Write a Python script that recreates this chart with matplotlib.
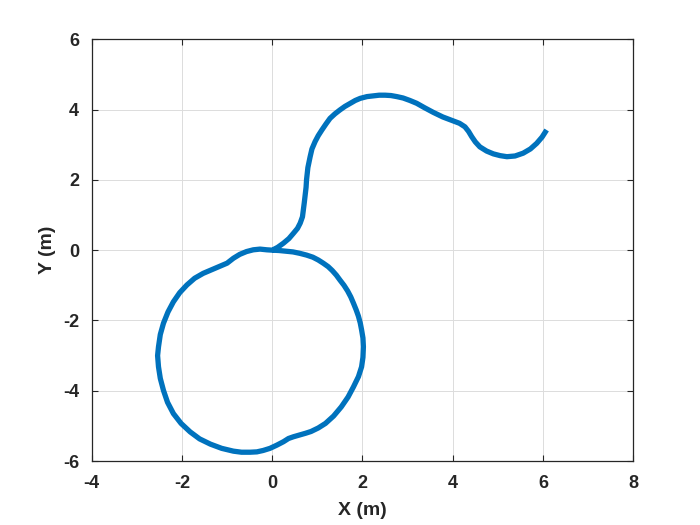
import matplotlib
matplotlib.use("Agg")
import matplotlib.pyplot as plt

# Trajectory (m)
x_m = [0.00, 0.15, 0.30, 0.46, 0.61, 0.76, 0.90, 1.02, 1.13, 1.24, 1.33, 1.42,
       1.50, 1.59, 1.67, 1.74, 1.80, 1.86, 1.91, 1.95, 1.98, 2.01, 2.02, 2.01,
       1.98, 1.91, 1.80, 1.68, 1.53, 1.36, 1.18, 1.02, 0.86, 0.74, 0.63, 0.55,
       0.47, 0.36, 0.25, 0.10, -0.05, -0.20, -0.34, -0.49, -0.68, -0.86, -1.12,
       -1.37, -1.61, -1.82, -2.02, -2.19, -2.32, -2.41, -2.48, -2.52, -2.54,
       -2.52, -2.48, -2.41, -2.31, -2.19, -2.05, -1.89, -1.72, -1.53, -1.33,
       -1.15, -1.00, -0.86, -0.72, -0.57, -0.42, -0.27, -0.12, 0.00,
       0.12, 0.25, 0.37, 0.47, 0.56, 0.62, 0.67, 0.69, 0.71, 0.73, 0.75, 0.76,
       0.79, 0.84, 0.88, 0.95, 1.02, 1.10, 1.19, 1.28, 1.39, 1.50, 1.61, 1.73,
       1.84, 1.95, 2.10, 2.24, 2.37, 2.50, 2.63, 2.76, 2.90, 3.05, 3.20, 3.38,
       3.57, 3.78, 4.01, 4.15, 4.27, 4.35, 4.42, 4.50, 4.60, 4.75, 4.90, 5.05,
       5.20, 5.38, 5.56, 5.72, 5.86, 5.98, 6.08]
y_m = [0.00, -0.01, -0.03, -0.05, -0.09, -0.14, -0.20, -0.28, -0.37, -0.47, -0.58, -0.71,
       -0.85, -1.00, -1.16, -1.33, -1.51, -1.70, -1.88, -2.07, -2.27, -2.50, -2.75, -3.05,
       -3.32, -3.60, -3.89, -4.18, -4.46, -4.72, -4.93, -5.06, -5.16, -5.21, -5.25, -5.28,
       -5.31, -5.36, -5.45, -5.55, -5.64, -5.70, -5.74, -5.75, -5.75, -5.72, -5.64,
       -5.52, -5.37, -5.17, -4.93, -4.65, -4.33, -3.99, -3.65, -3.32, -3.00,
       -2.75, -2.40, -2.08, -1.76, -1.47, -1.21, -0.99, -0.80, -0.66, -0.55,
       -0.45, -0.37, -0.23, -0.12, -0.04, 0.01, 0.03, 0.01, 0.00,
       0.08, 0.20, 0.33, 0.48, 0.62, 0.77, 0.95, 1.14, 1.35, 1.57, 1.79, 2.00,
       2.35, 2.66, 2.88, 3.09, 3.26, 3.42, 3.59, 3.75, 3.88, 3.99, 4.09, 4.18,
       4.26, 4.32, 4.37, 4.39, 4.41, 4.41, 4.40, 4.37, 4.33, 4.26, 4.18, 4.05,
       3.92, 3.79, 3.68, 3.61, 3.51, 3.38, 3.23, 3.08, 2.94, 2.82, 2.74, 2.69,
       2.66, 2.68, 2.76, 2.88, 3.04, 3.22, 3.42]

x_ticks = [-4, -2, 0, 2, 4, 6, 8]
y_ticks = [-6, -4, -2, 0, 2, 4, 6]
x_label = "X (m)"
y_label = "Y (m)"

plt.rcParams['font.family'] = ['Liberation Sans', 'DejaVu Sans']

fig = plt.figure(figsize=(7, 5.25), dpi=100)
ax = fig.add_axes([0.131, 0.1219, 0.7737, 0.8032])

ax.plot(x_m, y_m, color='#0072BD', linewidth=3.8, solid_joinstyle='round',
        solid_capstyle='butt', zorder=3)

ax.set_xlim(-4, 8)
ax.set_ylim(-6, 6)
ax.set_xticks(x_ticks)
ax.set_yticks(y_ticks)
ax.set_xticklabels([str(v) for v in x_ticks], fontweight='bold', fontsize=13)
ax.set_yticklabels([str(v) for v in y_ticks], fontweight='bold', fontsize=13)

ax.grid(True, color='#dcdcdc', linewidth=0.7)
ax.set_axisbelow(True)

ax.tick_params(direction='in', length=4, width=0.8, colors='#262626',
               top=True, right=True)
ax.tick_params(axis='x', pad=10)
ax.tick_params(axis='y', pad=9)
for s in ax.spines.values():
    s.set_color('#262626')
    s.set_linewidth(0.9)

ax.set_xlabel(x_label, fontweight='bold', fontsize=14, color='#262626', labelpad=7)
ax.set_ylabel(y_label, fontweight='bold', fontsize=14, color='#262626', labelpad=5)

fig.savefig("out.png", dpi=100)
